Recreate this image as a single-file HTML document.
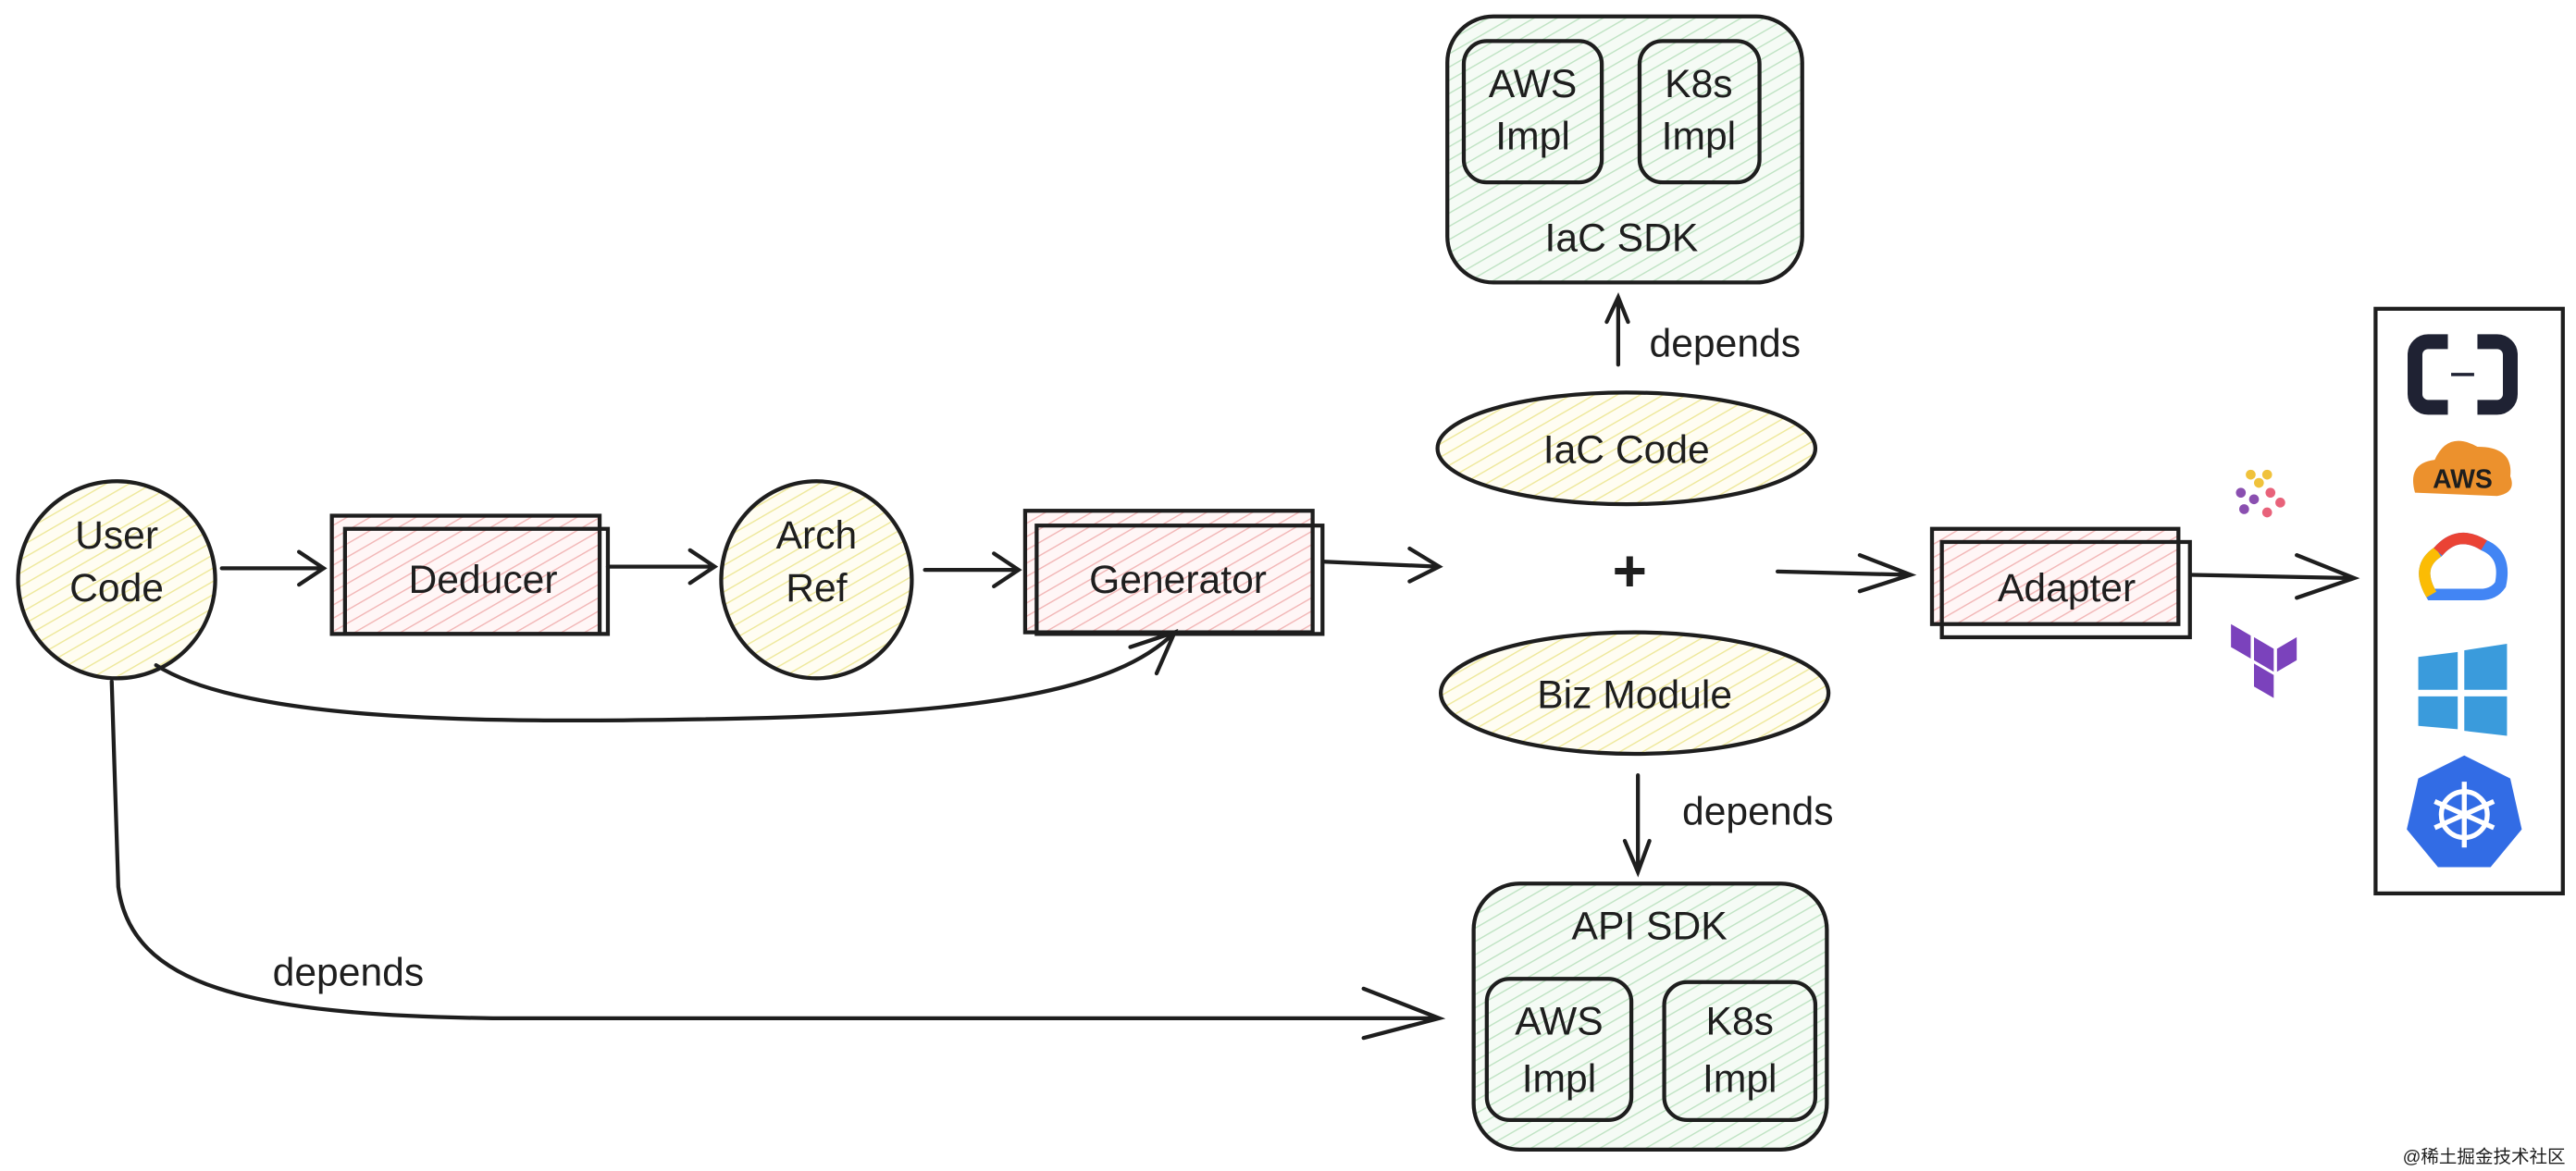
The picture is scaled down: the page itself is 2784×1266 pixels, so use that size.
<!DOCTYPE html>
<html><head><meta charset="utf-8"><style>
html,body{margin:0;padding:0;background:#fff;}
svg{display:block;}
text{font-family:"Liberation Sans","Noto Sans CJK SC",sans-serif;fill:#1e1e1e;}
</style></head><body>
<svg width="2784" height="1266" viewBox="0 0 1568 713" xmlns="http://www.w3.org/2000/svg">
<defs>
<pattern id="hy" width="7" height="7" patternUnits="userSpaceOnUse" patternTransform="rotate(60)"><rect width="7" height="7" fill="#fffdf2"/><line x1="0" y1="0" x2="0" y2="7" stroke="#eee89a" stroke-width="1.6"/></pattern>
<pattern id="hr" width="7" height="7" patternUnits="userSpaceOnUse" patternTransform="rotate(60)"><rect width="7" height="7" fill="#fff6f6"/><line x1="0" y1="0" x2="0" y2="7" stroke="#f2b6b6" stroke-width="1.6"/></pattern>
<pattern id="hg" width="7" height="7" patternUnits="userSpaceOnUse" patternTransform="rotate(60)"><rect width="7" height="7" fill="#f5fbf5"/><line x1="0" y1="0" x2="0" y2="7" stroke="#bfe3c3" stroke-width="1.6"/></pattern>
</defs>
<g fill="none" stroke="#1e1e1e" stroke-width="2.4" stroke-linecap="round">
<ellipse cx="71" cy="353" rx="60" ry="60" fill="url(#hy)"/>
<rect x="202" y="314" width="163" height="72" fill="url(#hr)"/>
<rect x="210" y="322" width="160" height="64" />
<ellipse cx="497" cy="353" rx="58" ry="60" fill="url(#hy)"/>
<rect x="624" y="311" width="175" height="74" fill="url(#hr)"/>
<rect x="631" y="320" width="174" height="66"/>
<rect x="881" y="10" width="216" height="162" rx="28" fill="url(#hg)"/>
<rect x="891" y="25" width="84" height="86" rx="14"/>
<rect x="998" y="25" width="73" height="86" rx="14"/>
<ellipse cx="990" cy="273" rx="115" ry="34" fill="url(#hy)"/>
<ellipse cx="995" cy="422" rx="118" ry="37" fill="url(#hy)"/>
<rect x="897" y="538" width="215" height="162" rx="28" fill="url(#hg)"/>
<rect x="905" y="596" width="88" height="86" rx="14"/>
<rect x="1013" y="598" width="92" height="84" rx="14"/>
<rect x="1176" y="322" width="150" height="58" fill="url(#hr)"/>
<rect x="1182" y="330" width="151" height="58"/>
<rect x="1446" y="188" width="114" height="356"/>
<path d="M135 346 L196 346 M182 336 L197 346 L182 356"/>
<path d="M370 345 L434 345 M420 335 L435 345 L420 355"/>
<path d="M563 347 L619 347 M605 337 L620 347 L605 357"/>
<path d="M806 342 L875 345 M858 334 L876 345 L858 354"/>
<path d="M95 405 C150 440, 300 440, 420 438 C600 436, 680 420, 715 385 M688 394 L715 385 L704 410"/>
<path d="M68 415 L72 540 C80 600, 150 618, 300 620 L875 620 M830 602 L876 620 L830 632"/>
<path d="M985 222 L985 182 M978 196 L985 181 L991 196"/>
<path d="M997 472 L997 530 M989 512 L997 531 L1004 512"/>
<path d="M1082 348 L1162 350 M1132 338 L1163 350 L1132 360"/>
<path d="M1334 350 L1432 352 M1398 338 L1433 352 L1398 364"/>
</g>
<g text-anchor="middle" font-size="24">
<text x="71" y="334">User</text><text x="71" y="366">Code</text>
<text x="294" y="361">Deducer</text>
<text x="497" y="334">Arch</text><text x="497" y="366">Ref</text>
<text x="717" y="361">Generator</text>
<text x="933" y="59">AWS</text><text x="933" y="91">Impl</text>
<text x="1034" y="59">K8s</text><text x="1034" y="91">Impl</text>
<text x="987" y="153">IaC SDK</text>
<text x="990" y="282">IaC Code</text>
<text x="995" y="431">Biz Module</text>
<text x="1004" y="572">API SDK</text>
<text x="949" y="630">AWS</text><text x="949" y="665">Impl</text>
<text x="1059" y="630">K8s</text><text x="1059" y="665">Impl</text>
<text x="1258" y="366">Adapter</text>
<text x="1050" y="217">depends</text>
<text x="1070" y="502">depends</text>
<text x="212" y="600">depends</text>
</g>
<text x="992" y="360" text-anchor="middle" font-size="36" font-weight="bold" fill="#333">+</text>
<g>
<rect x="1470" y="208" width="58" height="40" rx="8" fill="none" stroke="#1f2233" stroke-width="9"/>
<rect x="1490" y="200" width="18" height="56" fill="#fff"/>
<line x1="1492" y1="228" x2="1506" y2="228" stroke="#1f2233" stroke-width="2"/>
<path d="M1470 300 Q1465 282 1482 280 Q1490 262 1508 272 Q1530 272 1528 290 Q1532 300 1520 302 Z" fill="#ec912d"/>
<text x="1499" y="297" text-anchor="middle" font-size="16" font-weight="bold" fill="#fff">AWS</text>
<path d="M1480 362 Q1470 345 1484 336 Q1496 322 1512 332 Q1526 338 1522 356 Q1518 362 1510 362 Z" fill="none" stroke="#4285f4" stroke-width="7"/>
<path d="M1480 362 Q1470 345 1484 336" fill="none" stroke="#fbbc04" stroke-width="7"/>
<path d="M1484 336 Q1496 322 1512 332" fill="none" stroke="#ea4335" stroke-width="7"/>
<path d="M1472 400 L1496 397 L1496 420 L1472 420 Z M1500 396 L1526 392 L1526 420 L1500 420 Z M1472 424 L1496 424 L1496 444 L1472 442 Z M1500 424 L1526 424 L1526 448 L1500 445 Z" fill="#3a9bdc"/>
<polygon points="1500,460 1528,474 1535,505 1516,528 1484,528 1465,505 1472,474" fill="#326ce5"/>
<circle cx="1500" cy="496" r="14" fill="none" stroke="#fff" stroke-width="3"/>
<path d="M1500 476 L1500 516 M1482 488 L1518 504 M1518 488 L1482 504" stroke="#fff" stroke-width="3"/>
<g fill="#8a4fb0"><circle cx="1364" cy="300" r="3"/><circle cx="1372" cy="304" r="3"/><circle cx="1366" cy="310" r="3"/></g>
<g fill="#e8627a"><circle cx="1382" cy="300" r="3"/><circle cx="1388" cy="306" r="3"/><circle cx="1380" cy="312" r="3"/></g>
<g fill="#f0c23b"><circle cx="1370" cy="289" r="3"/><circle cx="1380" cy="289" r="3"/><circle cx="1375" cy="294" r="3"/></g>
<path d="M1358 380 L1370 387 L1370 401 L1358 394 Z M1372 388 L1384 395 L1384 409 L1372 402 Z M1386 395 L1398 388 L1398 402 L1386 409 Z M1372 404 L1384 411 L1384 425 L1372 418 Z" fill="#7b42bc"/>
</g>
<text x="1512" y="708" font-size="11" fill="#aaa" text-anchor="middle">@稀土掘金技术社区</text>
</svg>
</body></html>
